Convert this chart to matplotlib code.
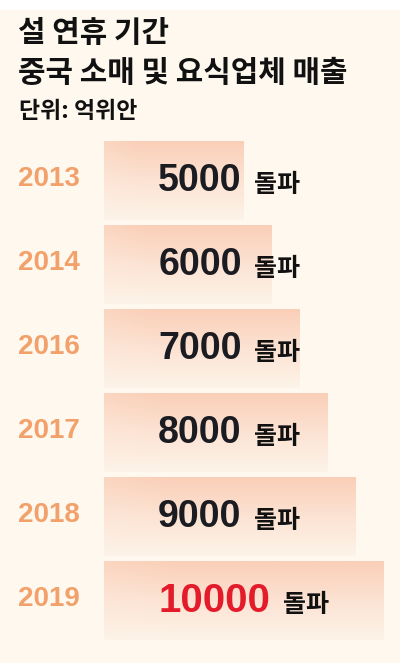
import numpy as np
import matplotlib
matplotlib.use("Agg")
import matplotlib.pyplot as plt
from matplotlib.colors import LinearSegmentedColormap
import matplotlib.transforms as mtransforms

plt.rcParams['font.family'] = ['Noto Sans CJK KR', 'DejaVu Sans']

# data
years = ["2013", "2014", "2016", "2017", "2018", "2019"]
sales = [5000, 6000, 7000, 8000, 9000, 10000]
value_labels = ["5000", "6000", "7000", "8000", "9000", "10000"]
suffix = "돌파"
title_lines = ["설 연휴 기간", "중국 소매 및 요식업체 매출"]
unit_text = "단위: 억위안"

W, H = 400, 669
fig = plt.figure(figsize=(W / 100, H / 100), dpi=100, facecolor="white")

# cream panel behind everything
bg = fig.add_axes([0, 6 / H, 1, (663 - 10) / H])
bg.set_facecolor("#FEF8EE")
bg.set_xticks([])
bg.set_yticks([])
for s in bg.spines.values():
    s.set_visible(False)

# titles
fig.text(18 / W, 1 - 33 / H, title_lines[0], fontsize=21.5, fontweight="bold",
         color="#111111", va="center", ha="left")
fig.text(18 / W, 1 - 73 / H, title_lines[1], fontsize=21.5, fontweight="bold",
         color="#111111", va="center", ha="left")
fig.text(19 / W, 1 - 112 / H, unit_text, fontsize=16.5, fontweight="bold",
         color="#111111", va="center", ha="left")

# bar area: px 104..400 horizontally, 139..643 vertically
ax = fig.add_axes([104 / W, (H - 643) / H, 296 / W, 504 / H])
ax.axis("off")
ax.patch.set_alpha(0)

ypos = np.arange(len(years))
bars = ax.barh(ypos, sales, height=0.93, color="none", edgecolor="none")

cmap = LinearSegmentedColormap.from_list(
    "peach", ["#FDF3E8", "#FCE3D3", "#FACFB8"])
gy = np.linspace(1, 0, 64)[:, None]
gx = np.linspace(0, 1, 64)[None, :]
grad = gy * (0.85 + 0.15 * np.clip(gx * 4, 0, 1))

for b in bars:
    x0, y0 = b.get_x(), b.get_y()
    w, h = b.get_width(), b.get_height()
    ax.imshow(grad, cmap=cmap, vmin=0, vmax=1, aspect="auto",
              extent=[x0, x0 + w, y0 + h, y0], origin="upper",
              interpolation="bilinear", zorder=1)

ax.set_xlim(0, 10000 * 296 / 280)
ax.set_ylim(len(years) - 0.5, -0.5)

# year labels on the left
yr_tr = mtransforms.blended_transform_factory(fig.transFigure, ax.transData)
for i, yr in enumerate(years):
    ax.text(18 / W, ypos[i] - 0.02, yr, transform=yr_tr, fontsize=20,
            fontweight="bold", family=["Liberation Sans", "DejaVu Sans"],
            color="#F2A16B", va="center", ha="left", clip_on=False)

# value labels inside bars
val_tr = ax.get_yaxis_transform()
for i, lab in enumerate(value_labels):
    last = i == len(value_labels) - 1
    t = ax.text(0.183, ypos[i], lab, transform=val_tr,
                fontsize=29 if last else 27, fontweight="bold",
                family=["Liberation Sans", "DejaVu Sans"],
                color="#E31B2A" if last else "#1B1C22",
                va="center", ha="left", zorder=3)
    ax.annotate(suffix, xy=(1, 0.5), xycoords=t, xytext=(9, -3),
                textcoords="offset points", fontsize=18, fontweight="bold",
                color="#111111", va="center", ha="left", zorder=3)

fig.savefig("out.png", dpi=100, facecolor="white")
